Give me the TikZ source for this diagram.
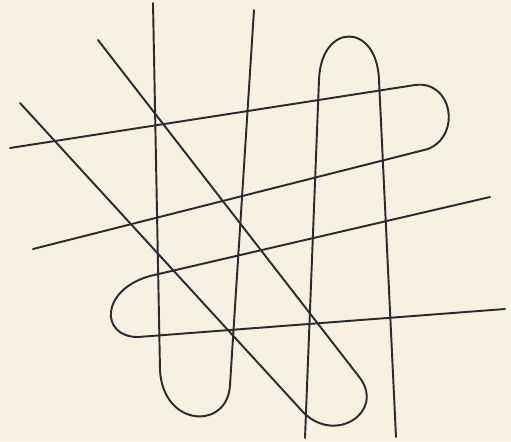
\documentclass[tikz,border=0pt]{standalone}
\usepackage{tikz}
\usetikzlibrary{calc}
\definecolor{paper}{HTML}{F8F0E1}
\definecolor{ink}{HTML}{2B2B2B}

\begin{document}
\begin{tikzpicture}[x=0.02cm,y=-0.02cm,
    strand/.style={draw=ink, line width=1.1pt, line cap=round, line join=round}]
  \fill[paper] (0,0) rectangle (511,441);
  \useasboundingbox (0,0) rectangle (511,441);
  % left U
  \draw[strand] (153,3) -- (160,370) .. controls (163,428) and (228,430) .. (230,385) -- (254,10);
  % upper inverted U
  \draw[strand] (305,438) -- (319,80) .. controls (321,22) and (377,22) .. (379,80) -- (396,437);
  % right loop
  \draw[strand] (10,148) -- (415,85) .. controls (452,80) and (462,135) .. (428,149) -- (33,249);
  % left loop
  \draw[strand] (490,197) -- (150,276) .. controls (100,290) and (100,337) .. (138,337) -- (505,309);
  % diagonal loop
  \draw[strand] (98,40) -- (360,378) .. controls (385,412) and (335,445) .. (303,412) -- (20,103);
\end{tikzpicture}
\end{document}
